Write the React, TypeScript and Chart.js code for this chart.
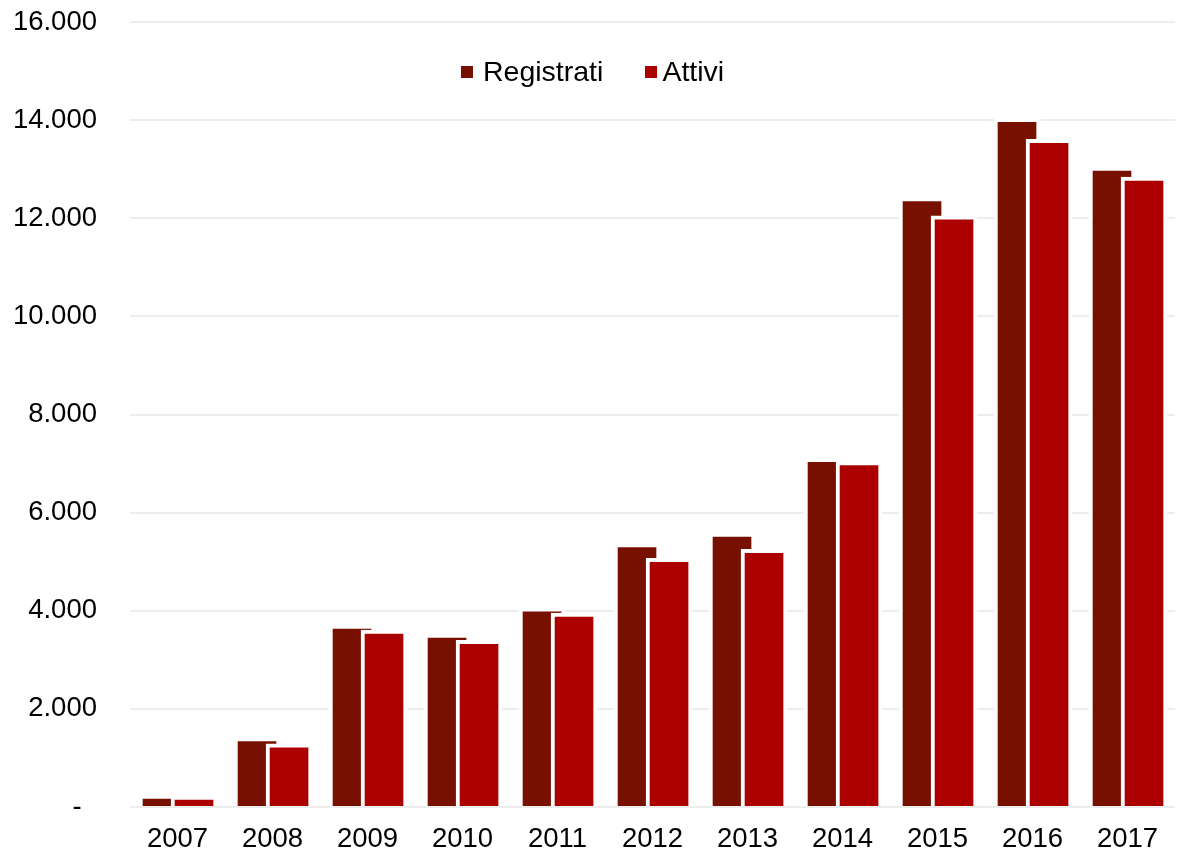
import React, { useEffect, useRef } from "react";
import { Chart, registerables } from "chart.js";

Chart.register(...registerables);

const years = ["2007", "2008", "2009", "2010", "2011", "2012", "2013", "2014", "2015", "2016", "2017"];
const registrati = [245, 1413, 3710, 3526, 4062, 5367, 5585, 7108, 12420, 14038, 13045];
const attivi = [224, 1290, 3608, 3398, 3954, 5069, 5253, 7038, 12047, 13610, 12841];
const seriesNames = ["Registrati", "Attivi"];
const seriesColors = ["#781000", "#AC0000"];
const yTicks = [0, 2000, 4000, 6000, 8000, 10000, 12000, 14000, 16000];

const FONT = "'Liberation Sans', Arial, sans-serif";

function fmt(v: number): string {
  if (v === 0) return "-  ";
  return String(Math.round(v)).replace(/\B(?=(\d{3})+(?!\d))/g, ".");
}

export default function App() {
  const ref = useRef<HTMLCanvasElement | null>(null);

  useEffect(() => {
    if (!ref.current) return;
    const chart = new Chart(ref.current, {
      type: "bar",
      data: {
        datasets: [
          {
            label: seriesNames[0],
            data: registrati.map((v, i) => ({ x: i - 0.163, y: v })),
            backgroundColor: seriesColors[0],
            borderColor: "#FFFFFF",
            borderWidth: 4,
            borderSkipped: "start",
            barThickness: 46,
            order: 2,
          },
          {
            label: seriesNames[1],
            data: attivi.map((v, i) => ({ x: i + 0.174, y: v })),
            backgroundColor: seriesColors[1],
            borderColor: "#FFFFFF",
            borderWidth: 4,
            borderSkipped: "start",
            barThickness: 46,
            order: 1,
          },
        ],
      },
      options: {
        animation: false,
        responsive: false,
        datasets: { bar: { grouped: false } },
        layout: { padding: { left: 13, right: 5, top: 0, bottom: 0 } },
        plugins: {
          legend: { display: false },
          tooltip: { enabled: false },
        },
        scales: {
          x: {
            type: "linear",
            min: -0.5,
            max: 10.5,
            offset: false,
            grid: { display: false, drawTicks: false },
            border: { display: false },
            afterBuildTicks: (scale: any) => {
              scale.ticks = years.map((_, i) => ({ value: i }));
            },
            afterFit: (s: any) => {
              s.height = 46;
            },
            ticks: {
              autoSkip: false,
              maxRotation: 0,
              padding: 16,
              color: "#000",
              font: { family: FONT, size: 27.5 },
              callback: (v: any) => years[Math.round(Number(v))] ?? "",
            },
          },
          y: {
            min: 0,
            max: 16000,
            afterBuildTicks: (scale: any) => {
              scale.ticks = yTicks.map((v) => ({ value: v }));
            },
            afterFit: (s: any) => {
              s.width = 117;
              s.paddingTop = 22;
              s.paddingBottom = 0;
            },
            grid: { color: "#EDEDED", lineWidth: 2, drawTicks: false },
            border: { display: false },
            ticks: {
              padding: 33,
              color: "#000",
              font: { family: FONT, size: 27.5 },
              callback: (v: any) => fmt(Number(v)),
            },
          },
        },
      },
    });
    return () => chart.destroy();
  }, []);

  return (
    <div style={{ position: "absolute", left: 0, top: 0, width: 1180, height: 853, background: "#fff" }}>
      <canvas ref={ref} width={1180} height={853} style={{ display: "block" }} />
      <div
        style={{
          position: "absolute",
          left: 461,
          top: 55,
          display: "flex",
          alignItems: "center",
          fontFamily: FONT,
          fontSize: 28.5,
          color: "#000",
          whiteSpace: "nowrap",
        }}
      >
        {seriesNames.map((n, i) => (
          <div key={n} style={{ display: "flex", alignItems: "center", marginRight: i === 0 ? 42 : 0 }}>
            <span style={{ display: "inline-block", width: 12, height: 12, background: seriesColors[i], marginRight: i === 0 ? 10 : 5 }} />
            <span>{n}</span>
          </div>
        ))}
      </div>
    </div>
  );
}
